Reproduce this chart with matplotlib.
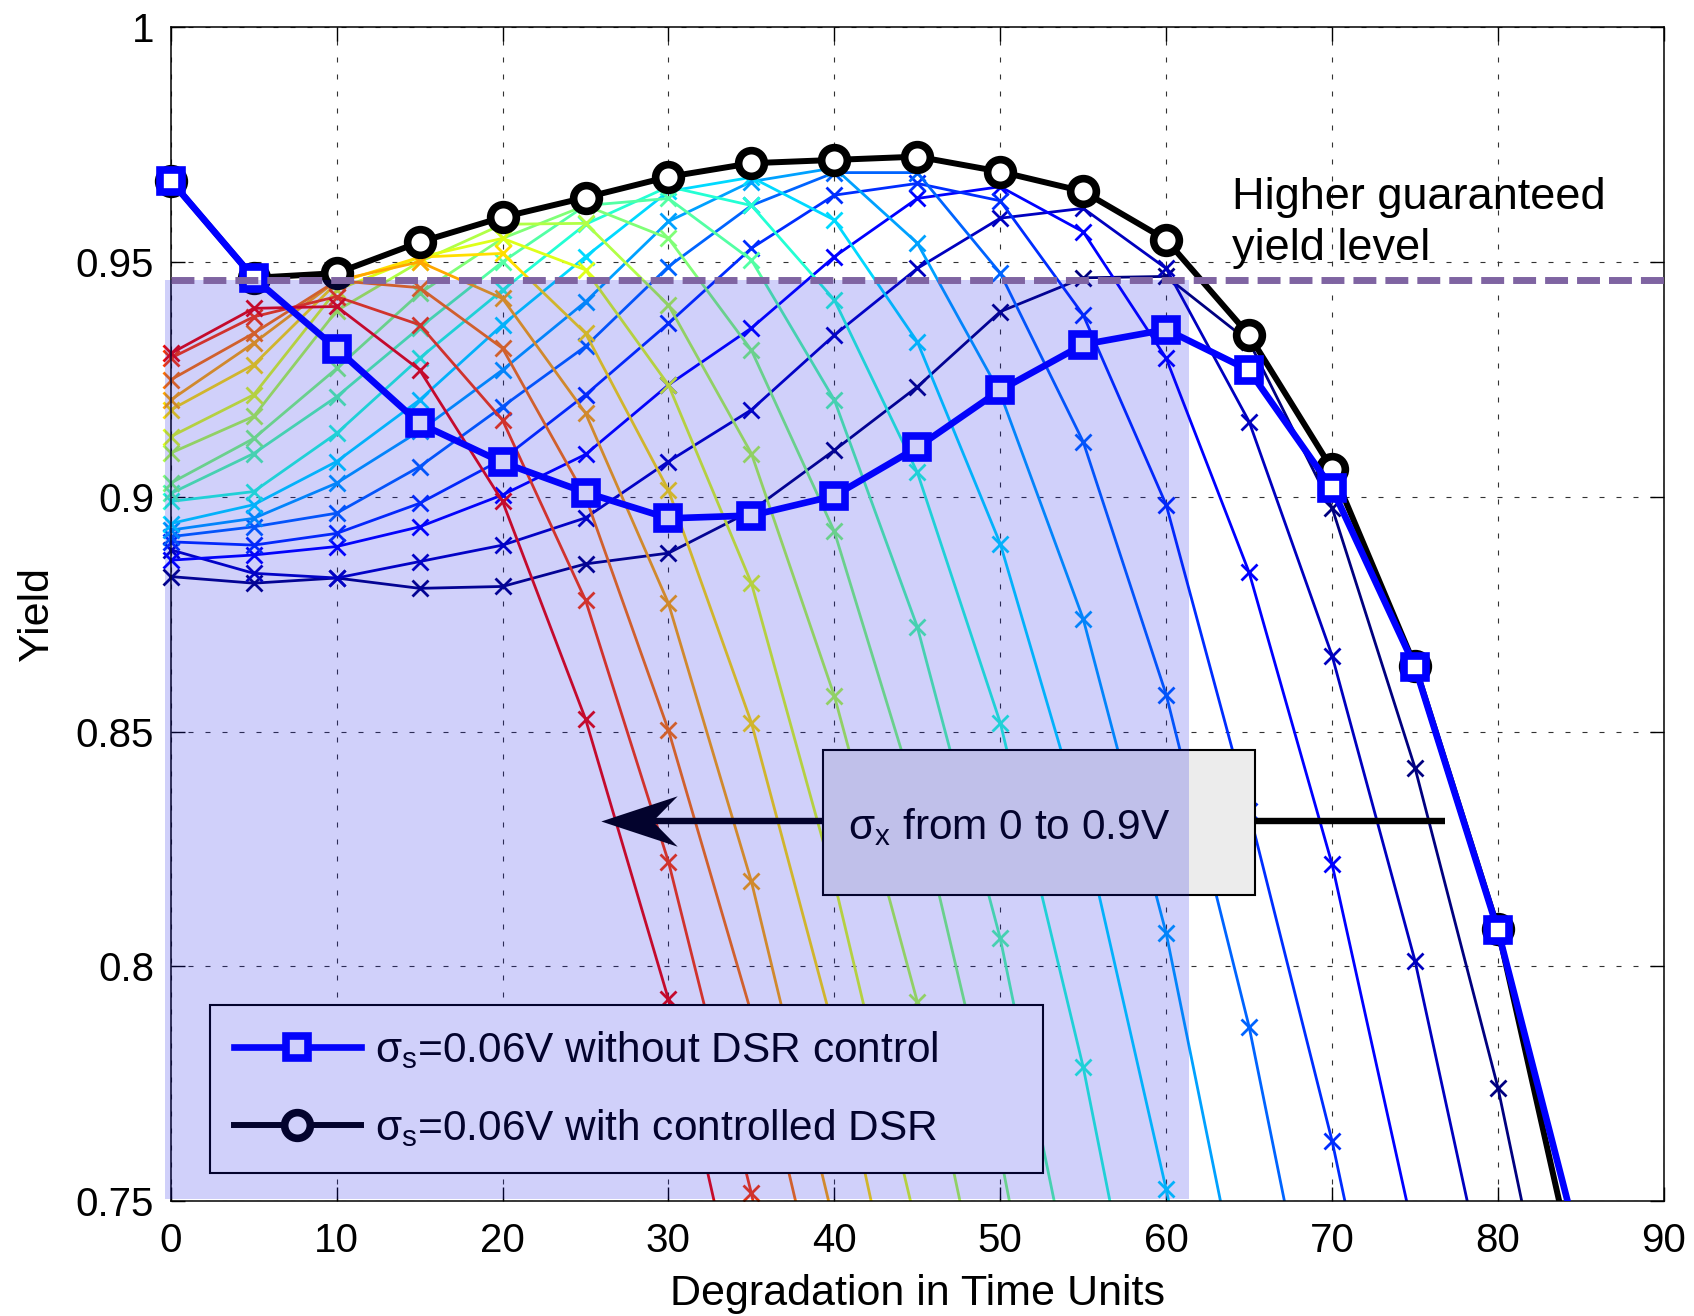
import numpy as np
import matplotlib
matplotlib.use("Agg")
import matplotlib.pyplot as plt
from matplotlib.path import Path
from matplotlib.patches import Rectangle
from matplotlib.lines import Line2D

plt.rcParams['font.family'] = ['Liberation Sans', 'DejaVu Sans']

# ---------------- data ----------------
x_vals = [0, 5, 10, 15, 20, 25, 30, 35, 40, 45, 50, 55, 60, 65, 70, 75, 80, 85]

# sigma_x family (dark blue = 0 ... red = 0.9V)
curve_00 = [0.8830, 0.8816, 0.8827, 0.8805, 0.8809, 0.8857, 0.8880, 0.8970, 0.9099, 0.9234, 0.9394, 0.9466, 0.9469, 0.9330, 0.8977, 0.8423, 0.7742, 0.6900]
curve_01 = [0.8887, 0.8837, 0.8827, 0.8862, 0.8897, 0.8955, 0.9075, 0.9185, 0.9344, 0.9486, 0.9593, 0.9614, 0.9486, 0.9160, 0.8662, 0.8012, 0.7200]
curve_02 = [0.8865, 0.8876, 0.8894, 0.8936, 0.9004, 0.9090, 0.9238, 0.9359, 0.9511, 0.9635, 0.9660, 0.9564, 0.9295, 0.8839, 0.8218, 0.7420]
curve_03 = [0.8904, 0.8897, 0.8922, 0.8986, 0.9080, 0.9217, 0.9369, 0.9529, 0.9642, 0.9667, 0.9630, 0.9387, 0.8983, 0.8330, 0.7629, 0.6800]
curve_04 = [0.8915, 0.8936, 0.8965, 0.9064, 0.9192, 0.9320, 0.9490, 0.9620, 0.9690, 0.9690, 0.9476, 0.9117, 0.8579, 0.7872, 0.7000]
curve_05 = [0.8929, 0.8954, 0.9029, 0.9140, 0.9270, 0.9415, 0.9586, 0.9671, 0.9700, 0.9540, 0.9220, 0.8740, 0.8071, 0.7200]
curve_06 = [0.8943, 0.8983, 0.9075, 0.9206, 0.9366, 0.9511, 0.9650, 0.9680, 0.9589, 0.9330, 0.8900, 0.8300, 0.7526, 0.6700]
curve_07 = [0.8990, 0.9011, 0.9135, 0.9295, 0.9440, 0.9580, 0.9660, 0.9620, 0.9419, 0.9052, 0.8519, 0.7786, 0.6900]
curve_08 = [0.9007, 0.9092, 0.9213, 0.9360, 0.9500, 0.9620, 0.9635, 0.9504, 0.9206, 0.8723, 0.8060, 0.7200]
curve_09 = [0.9029, 0.9124, 0.9273, 0.9433, 0.9550, 0.9620, 0.9550, 0.9312, 0.8926, 0.8350, 0.7600, 0.6700]
curve_10 = [0.9093, 0.9171, 0.9396, 0.9500, 0.9580, 0.9582, 0.9408, 0.9092, 0.8576, 0.7925, 0.7100]
curve_11 = [0.9128, 0.9217, 0.9440, 0.9510, 0.9550, 0.9483, 0.9238, 0.8816, 0.8180, 0.7440]
curve_12 = [0.9185, 0.9281, 0.9455, 0.9510, 0.9518, 0.9348, 0.9014, 0.8519, 0.7860, 0.7050]
curve_13 = [0.9206, 0.9327, 0.9460, 0.9500, 0.9422, 0.9178, 0.8773, 0.8181, 0.7450]
curve_14 = [0.9249, 0.9348, 0.9460, 0.9445, 0.9316, 0.9000, 0.8503, 0.7900, 0.7150]
curve_15 = [0.9295, 0.9383, 0.9426, 0.9366, 0.9163, 0.8780, 0.8223, 0.7517, 0.6700]
curve_16 = [0.9305, 0.9401, 0.9405, 0.9270, 0.8990, 0.8527, 0.7930, 0.7150]
sigma_curves = [curve_00, curve_01, curve_02, curve_03, curve_04, curve_05, curve_06,
                curve_07, curve_08, curve_09, curve_10, curve_11, curve_12, curve_13,
                curve_14, curve_15, curve_16]

without_dsr = [0.9673, 0.9466, 0.9315, 0.9156, 0.9073, 0.9009, 0.8954, 0.8960, 0.9002, 0.9105,
               0.9227, 0.9324, 0.9356, 0.9269, 0.9018, 0.8638, 0.8077, 0.7390]
with_dsr = [0.9673, 0.9466, 0.9476, 0.9542, 0.9595, 0.9637, 0.9681, 0.9710, 0.9717, 0.9724,
            0.9692, 0.9650, 0.9547, 0.9344, 0.9059, 0.8640, 0.8080, 0.7295]

guaranteed_level = 0.9462
shade_x_end = 61.4

x_ticks = [0, 10, 20, 30, 40, 50, 60, 70, 80, 90]
y_ticks = [0.75, 0.8, 0.85, 0.9, 0.95, 1.0]
y_tick_labels = ['0.75', '0.8', '0.85', '0.9', '0.95', '1']

label_without = 'σ$_\\mathregular{s}$=0.06V without DSR control'
label_with = 'σ$_\\mathregular{s}$=0.06V with controlled DSR'
box_text = 'σ$_\\mathregular{x}$ from 0 to 0.9V'

# ---------------- figure ----------------
fig = plt.figure(figsize=(16.94, 13.16), dpi=100)
ax = fig.add_axes([0.1008, 0.0871, 0.8814, 0.8924])
ax.set_xlim(0, 90)
ax.set_ylim(0.75, 1.0)

clip = Rectangle((-0.1, 0.0), 1.2, 1.1, transform=ax.transAxes)

cmap = plt.get_cmap('jet')
colors = [cmap(t) for t in np.linspace(0.0, 0.9, len(sigma_curves))]
for k, ys in enumerate(sigma_curves):
    ln, = ax.plot(x_vals[:len(ys)], ys, '-x', color=colors[k], lw=2.0, ms=11, mew=2.0, zorder=2)
    ln.set_clip_path(clip)

l_with, = ax.plot(x_vals, with_dsr, '-o', color='k', lw=4.3, ms=18.5, mew=5.5,
                  mfc='white', mec='k', zorder=3)
l_with.set_clip_path(clip)
l_wo, = ax.plot(x_vals, without_dsr, '-s', color='#0000FF', lw=4.8, ms=16.5, mew=5.5,
                mfc='white', mec='#0000FF', zorder=4)
l_wo.set_clip_path(clip)

# annotation box with arrow
arrow_y = 0.8310
ax.plot([28.5, 76.78], [arrow_y, arrow_y], color='k', lw=4.6, solid_capstyle='butt', zorder=4.5)
head = Path([(-1, 0), (1, 0.66), (0.35, 0), (1, -0.66), (-1, 0)],
            [Path.MOVETO, Path.LINETO, Path.LINETO, Path.LINETO, Path.CLOSEPOLY])
ax.plot([28.22], [arrow_y], marker=head, ms=55, mfc='k', mec='k', mew=0, ls='none', zorder=4.6)
ax.add_patch(Rectangle((39.34, 0.81531), 26.04, 0.03082, facecolor='#ECECEC',
                       edgecolor='k', lw=1.5, zorder=5))
ax.text(40.81, 0.8271, box_text, fontsize=30.5, va='baseline', ha='left', zorder=5.5)

# legend
handles = [Line2D([], [], color='#0000FF', lw=4.8, marker='s', ms=16.5, mew=5.5,
                  mfc='white', mec='#0000FF'),
           Line2D([], [], color='k', lw=4.3, marker='o', ms=18.5, mew=5.5,
                  mfc='white', mec='k')]
leg = ax.legend(handles, [label_without, label_with], loc='lower left',
                bbox_to_anchor=(0.0261, 0.0239, 0.5579, 0.1444), mode='expand',
                borderaxespad=0, fontsize=30.5, handlelength=3.0, handletextpad=0.34,
                borderpad=0.57, labelspacing=0.85, fancybox=False, framealpha=1,
                edgecolor='k', facecolor='white')
leg.get_frame().set_linewidth(1.5)
leg.set_zorder(5)

# shaded overlay region
ax.add_patch(Rectangle((-0.35, 0.7505), shade_x_end + 0.35, guaranteed_level - 0.7505,
                       facecolor='#1414E6', alpha=0.2, edgecolor='none', zorder=6,
                       clip_on=False))

# guaranteed yield level
ax.axhline(guaranteed_level, color='#7F64A2', lw=5, ls=(0, (3.3, 1.3)), zorder=7)
ax.text(63.95, 0.9612, 'Higher guaranteed', fontsize=32.5, va='baseline', ha='left', zorder=8)
ax.text(63.95, 0.9503, 'yield level', fontsize=32.5, va='baseline', ha='left', zorder=8)

# axes styling
ax.set_xticks(x_ticks)
ax.set_yticks(y_ticks)
ax.set_yticklabels(y_tick_labels)
ax.grid(True, color='#333333', lw=0.8, ls=(0, (4.5, 10.8)))
ax.set_axisbelow(True)
ax.tick_params(direction='in', length=10, width=1, top=True, right=True, labelsize=29)
ax.tick_params(axis='x', pad=15)
ax.tick_params(axis='y', pad=12)
for sp in ax.spines.values():
    sp.set_linewidth(1.1)

ax.set_xlabel('Degradation in Time Units', fontsize=31)
ax.set_ylabel('Yield', fontsize=31)
ax.xaxis.set_label_coords(0.5, -0.062)
ax.yaxis.set_label_coords(-0.076, 0.5)

fig.savefig('out.png', dpi=100)
